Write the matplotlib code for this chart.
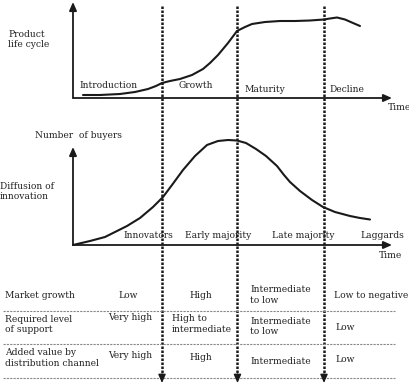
import matplotlib
matplotlib.use("Agg")
import matplotlib.pyplot as plt

W, H = 410, 385

# Product life cycle curve (pixel coords)
plc_x = [83, 100, 120, 135, 148, 156, 162, 170, 180, 192, 203, 210, 218, 228, 237, 245, 252, 265, 280, 295, 310, 324, 330, 337, 345, 353, 360]
plc_y = [95, 95, 94, 92, 89, 86, 83, 81, 79, 75, 69, 63, 55, 43, 31, 27, 24, 22, 21, 21, 20.5, 19.5, 18.5, 17.5, 19.5, 23, 26]
plc_labels = ["Introduction", "Growth", "Maturity", "Decline"]
plc_label_x = [79, 179, 245, 329]
plc_label_y = [85, 85, 89, 89]

# Diffusion of innovation curve
dif_x = [73, 90, 105, 115, 127, 140, 153, 163, 172, 183, 195, 207, 218, 228, 237, 246, 256, 266, 277, 284, 290, 300, 312, 323, 335, 350, 360, 370]
dif_y = [245, 241, 237, 232, 226, 218, 207, 197, 185, 170, 156, 145, 141, 140, 140.5, 143, 149, 156, 166, 175, 182, 191, 200, 207, 212, 216, 218, 219.5]
dif_labels = ["Innovators", "Early majority", "Late majority", "Laggards"]
dif_label_x = [123, 185, 272, 360]

# Stage boundaries
bounds_x = [162, 237.5, 324]

# Table
row_labels = ["Market growth", "Required level\nof support", "Added value by\ndistribution channel"]
row_label_y = [295, 324.5, 358]
cells = [
    ["Low", "High", "Intermediate\nto low", "Low to negative"],
    ["Very high", "High to\nintermediate", "Intermediate\nto low", "Low"],
    ["Very high", "High", "Intermediate", "Low"],
]
cell_x = [
    [128, 201, 250, 334],
    [108, 172, 250, 335],
    [108, 201, 250, 335],
]
cell_ha = [
    ["center", "center", "left", "left"],
    ["left", "left", "left", "left"],
    ["left", "center", "left", "left"],
]
cell_y = [
    [296, 295, 295, 295],
    [318, 324, 326.5, 327],
    [356, 358, 361, 360],
]
sep_y = [311, 344, 378]

fig = plt.figure(figsize=(W / 100, H / 100), dpi=100)
ax = fig.add_axes([0, 0, 1, 1])
ax.set_xlim(0, W)
ax.set_ylim(H, 0)
ax.axis("off")

font = dict(family=["DejaVu Serif"], fontsize=6.6, color="#222222")
ink = "#1a1a1a"

def arrow(x0, y0, x1, y1, lw=1.3):
    ax.annotate("", xy=(x1, y1), xytext=(x0, y0),
                arrowprops=dict(arrowstyle="-|>,head_length=0.5,head_width=0.22",
                                color=ink, lw=lw, shrinkA=0, shrinkB=0))

# Top axes
arrow(73, 98, 73, 2)
arrow(73, 98, 392, 98)
ax.text(388, 108, "Time", ha="left", va="center", **font)
ax.text(8, 39.5, "Product\nlife cycle", ha="left", va="center", linespacing=1.1, **font)
ax.plot(plc_x, plc_y, color=ink, lw=1.5, solid_capstyle="round")
for t, x, y in zip(plc_labels, plc_label_x, plc_label_y):
    ax.text(x, y, t, ha="left", va="center", **font)

# Bottom axes
arrow(73, 245, 73, 147)
arrow(73, 245, 392, 245)
ax.text(379, 256, "Time", ha="left", va="center", **font)
ax.text(35, 135, "Number  of buyers", ha="left", va="center", **font)
ax.text(0, 191.5, "Diffusion of\ninnovation", ha="left", va="center", linespacing=1.1, **font)
ax.plot(dif_x, dif_y, color=ink, lw=1.5, solid_capstyle="round")
for t, x in zip(dif_labels, dif_label_x):
    ax.text(x, 236, t, ha="left", va="center", **font)

# Stage boundary lines
for bx in bounds_x:
    ax.plot([bx, bx], [6, 376], color=ink, lw=1.8, linestyle=(0, (1.0, 0.6)))
    ax.annotate("", xy=(bx, 383), xytext=(bx, 374),
                arrowprops=dict(arrowstyle="-|>,head_length=0.5,head_width=0.22",
                                color=ink, lw=1.0, shrinkA=0, shrinkB=0))

# Table
for y in sep_y:
    ax.plot([3, 395], [y, y], color="#888888", lw=0.8, linestyle=(0, (2, 1)))
for t, y in zip(row_labels, row_label_y):
    ax.text(5, y, t, ha="left", va="center", linespacing=1.15, **font)
for r in range(3):
    for c in range(4):
        ax.text(cell_x[r][c], cell_y[r][c], cells[r][c], ha=cell_ha[r][c],
                va="center", linespacing=1.15, **font)

fig.savefig("out.png", dpi=100)
